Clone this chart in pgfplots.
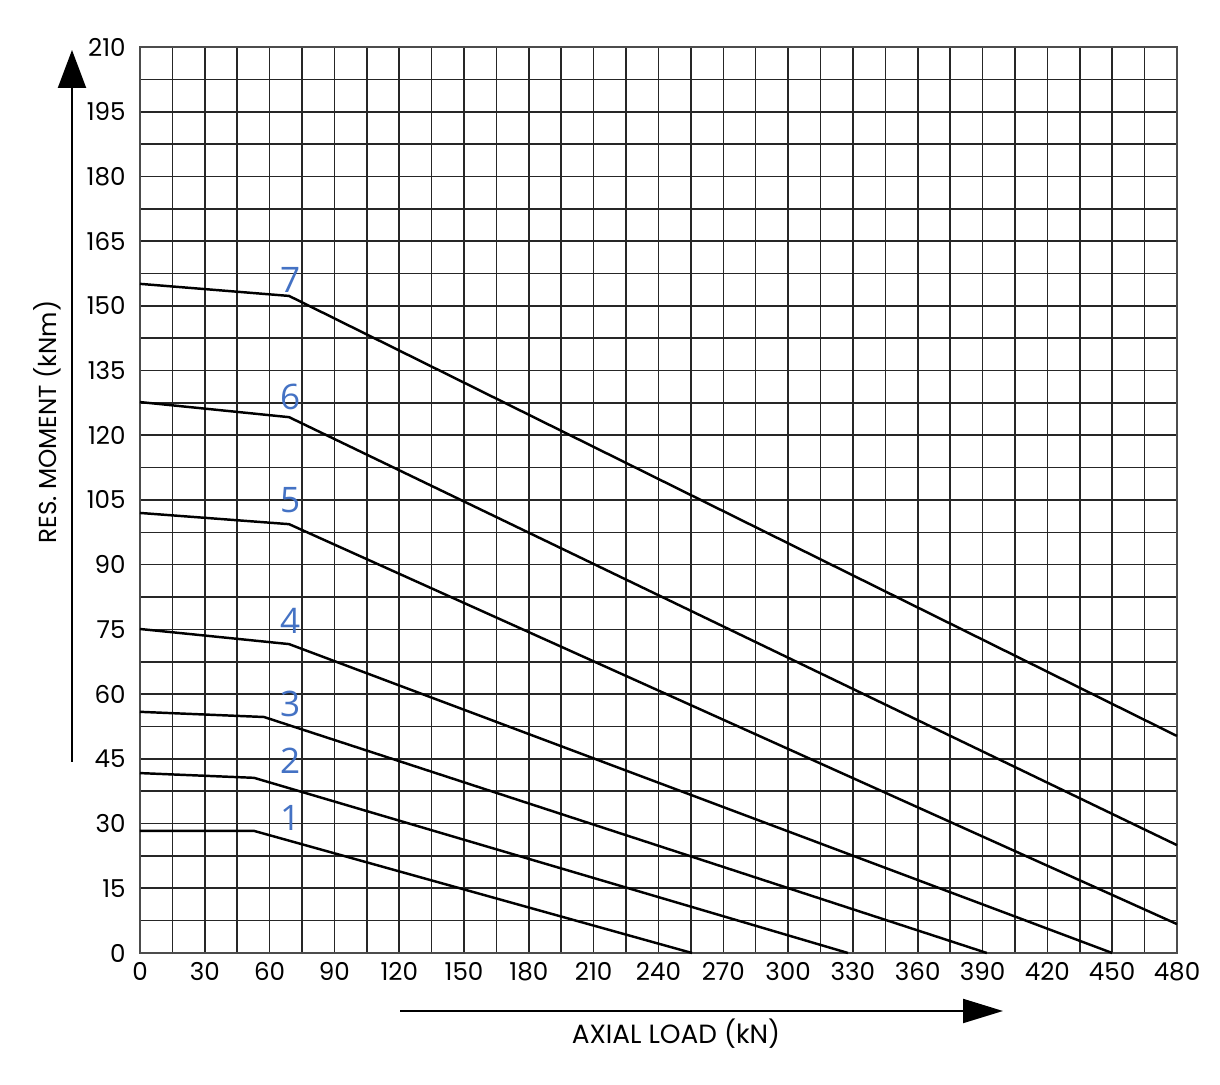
\documentclass[border=0pt]{standalone}
\usepackage{fontspec}
\setmainfont{Poppins}
\newfontfamily\numfont{Open Sans}
\usepackage{pgfplots}
\pgfplotsset{compat=1.18}
\usetikzlibrary{arrows.meta,calc}
\definecolor{lblblue}{RGB}{68,114,196}
\begin{document}
\begin{tikzpicture}
\begin{axis}[
    scale only axis,
    width=10.37cm, height=9.06cm,
    xmin=0, xmax=480, ymin=0, ymax=210,
    xtick={0,30,...,480}, ytick={0,15,...,210},
    minor x tick num=1, minor y tick num=1,
    grid=both,
    major grid style={black!85, line width=0.45pt},
    minor grid style={black!85, line width=0.45pt},
    axis line style={black!70, line width=0.45pt},
    major tick length=0pt, minor tick length=0pt,
    tick label style={font=\fontsize{7}{8}\selectfont},
    /pgf/number format/assume math mode=true,
    xticklabel style={yshift=0.03cm},
    yticklabel style={xshift=-0.02cm},
    clip=false,
]
\coordinate (O) at (rel axis cs:0,0);
\addplot[black, line width=0.7pt] coordinates {(0,28.3) (52.8,28.3) (255.5,0)};
\addplot[black, line width=0.7pt] coordinates {(0,41.7) (52.8,40.6) (327.7,0)};
\addplot[black, line width=0.7pt] coordinates {(0,55.9) (57.4,54.7) (392,0)};
\addplot[black, line width=0.7pt] coordinates {(0,75.1) (69,71.6) (450,0)};
\addplot[black, line width=0.7pt] coordinates {(0,102) (69,99.4) (480,6.7)};
\addplot[black, line width=0.7pt] coordinates {(0,127.7) (69,124.2) (480,25.0)};
\addplot[black, line width=0.7pt] coordinates {(0,155.1) (69,152.3) (480,50.3)};
\foreach \n/\yy in {1/31.3,2/44.5,3/57.7,4/77,5/105,6/128.9,7/156}{
  \edef\tmp{\noexpand\node[text=lblblue, font=\noexpand\numfont\noexpand\fontsize{10}{11}\noexpand\selectfont] at (axis cs:69.5,\yy) {\n};}
  \tmp
}
\end{axis}
\draw[line width=0.6pt, -{Triangle[length=3.8mm,width=2.8mm]}] ($(O)+(-0.68cm,1.91cm)$) -- ($(O)+(-0.68cm,9.03cm)$);
\draw[line width=0.6pt, -{Triangle[length=4.0mm,width=2.4mm]}] ($(O)+(2.60cm,-0.58cm)$) -- ($(O)+(8.63cm,-0.58cm)$);
\node[rotate=90, font=\fontsize{7}{9}\selectfont] at ($(O)+(-0.93cm,5.31cm)$) {RES. MOMENT (kNm)};
\node[font=\fontsize{7.5}{9}\selectfont] at ($(O)+(5.36cm,-0.81cm)$) {AXIAL LOAD (kN)};
\pgfresetboundingbox
\useasboundingbox ($(O)+(-1.40cm,-1.32cm)$) rectangle ($(O)+(10.80cm,9.53cm)$);
\end{tikzpicture}
\end{document}
